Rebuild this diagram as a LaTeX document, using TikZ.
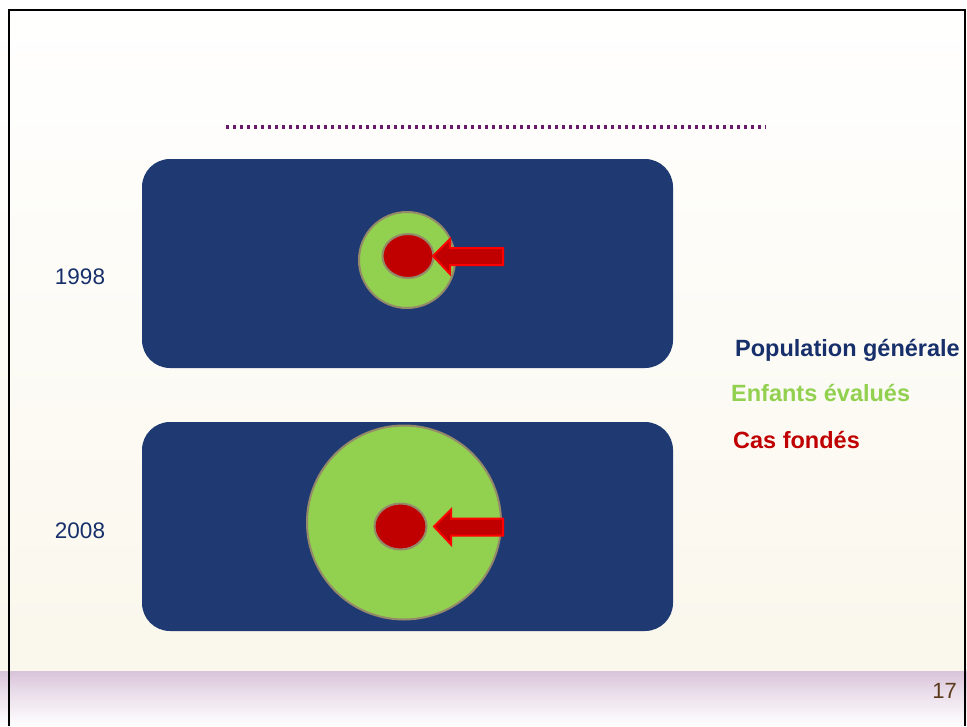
\documentclass[tikz,border=0pt]{standalone}
\usepackage{fontspec}
\setmainfont{Liberation Sans}
\usetikzlibrary{shapes.geometric}
\definecolor{navy}{HTML}{1F3A73}
\definecolor{navytext}{HTML}{17306B}
\definecolor{lgreen}{HTML}{92D050}
\definecolor{dred}{HTML}{C00000}
\definecolor{brightred}{HTML}{FF0000}
\definecolor{olive}{HTML}{948A6A}
\definecolor{cream}{HTML}{FAF7EC}
\definecolor{lav}{HTML}{D9C3D9}
\definecolor{dotpurple}{HTML}{6B1A6B}
\definecolor{brownnum}{HTML}{5A3A1A}
\begin{document}
\begin{tikzpicture}[x=1pt,y=-1pt,
  panel/.style={fill=navy,draw=none,rounded corners=28pt},
  evalcircle/.style={circle,fill=lgreen,draw=olive,line width=2pt,inner sep=0pt},
  casellipse/.style={ellipse,fill=dred,draw=olive,line width=2pt,inner sep=0pt},
  pointer/.style={fill=dred,draw=brightred,line width=2pt,line join=miter},
  yearlbl/.style={font=\fontsize{22.5}{26}\selectfont,text=navytext,anchor=center},
  legend/.style={font=\bfseries\fontsize{23.5}{27}\selectfont,anchor=west,inner sep=0pt}
]
\useasboundingbox (0,0) rectangle (967,726);
% background
\shade[top color=white,bottom color=cream] (0,0) rectangle (967,671);
\shade[top color=lav,bottom color=lav!60!white] (0,671) rectangle (967,690);
\shade[top color=lav!60!white,bottom color=white] (0,690) rectangle (967,726);
% frame
\draw[black,line width=2.5pt] (9,726) -- (9,10) -- (965,10) -- (965,726);
% dotted rule
\coordinate (r1) at (226,127);
\coordinate (r2) at (766,127);
\draw[dotpurple,line width=3.2pt,dash pattern=on 3pt off 4pt] (r1) -- (r2);
% panels
\fill[panel] (142,159) rectangle (673,368);
\fill[panel] (142,422) rectangle (673,631);
% 1998
\node[evalcircle,minimum size=96pt] (c1) at (407,260) {};
\node[casellipse,minimum width=51pt,minimum height=44pt] (e1) at (408,256) {};
\coordinate (t1) at (433,256);
\draw[pointer] (t1) -- ++(17,-17) -- ++(0,9) -- ++(53,0) -- ++(0,17) -- ++(-53,0) -- ++(0,9) -- cycle;
% 2008
\node[evalcircle,minimum size=194pt] (c2) at (404,522.5) {};
\node[casellipse,minimum width=52pt,minimum height=46pt] (e2) at (400.5,526.5) {};
\coordinate (t2) at (434,526.5);
\draw[pointer] (t2) -- ++(17,-17) -- ++(0,9) -- ++(52,0) -- ++(0,17) -- ++(-52,0) -- ++(0,9) -- cycle;
% years
\node[yearlbl] (y1) at (80,277) {1998};
\node[yearlbl] (y2) at (80,531) {2008};
% legend
\node[legend,text=navytext] (l1) at (735,350) {Population générale};
\node[legend,text=lgreen] (l2) at (731,393) {Enfants évalués};
\node[legend,text=dred] (l3) at (733,440) {Cas fondés};
% page number
\node[font=\fontsize{22}{24}\selectfont,text=brownnum,anchor=east,inner sep=0pt] (pn) at (957,691) {17};
\end{tikzpicture}
\end{document}
